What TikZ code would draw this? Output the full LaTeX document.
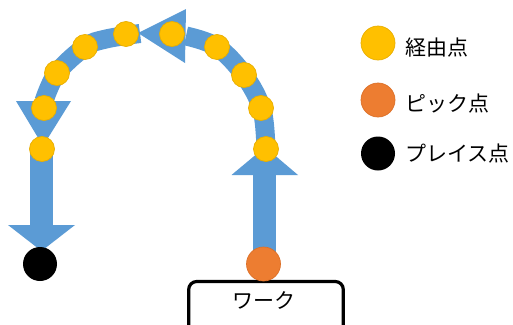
\documentclass[tikz,border=0pt]{standalone}
\usepackage{fontspec}
\newfontfamily\jp{Noto Sans CJK JP}
\definecolor{flowblue}{HTML}{5B9BD5}
\definecolor{viagold}{HTML}{FFC000}
\definecolor{viaedge}{HTML}{E8AE00}
\definecolor{pickorange}{HTML}{ED7D31}
\definecolor{pickedge}{HTML}{DC7028}
\tikzset{
  band/.style={draw=flowblue, line width=19pt},
  via/.style={circle, fill=viagold, draw=viaedge, line width=0.7pt, minimum size=25pt, inner sep=0pt},
  pick/.style={circle, fill=pickorange, draw=pickedge, line width=0.7pt, minimum size=34pt, inner sep=0pt},
  place/.style={circle, fill=black, minimum size=34pt, inner sep=0pt},
  jptext/.style={font=\jp\fontsize{21}{24}\selectfont, inner sep=0pt},
  legendtext/.style={jptext, anchor=west},
  workbox/.style={draw=black, line width=3.2pt, rounded corners=8pt}
}
\begin{document}
\begin{tikzpicture}[x=1pt, y=-1pt]
  \clip (0,0) rectangle (513,324);
  \fill[white] (0,0) rectangle (513,324);

  % path points of the two arcs
  \coordinate (ra0) at (266,152);
  \coordinate (ra1) at (262,110);
  \coordinate (ra2) at (244,75);
  \coordinate (ra3) at (217,47);
  \coordinate (ra4) at (186,36);
  \coordinate (la0) at (140,33.5);
  \coordinate (la1) at (106,39);
  \coordinate (la2) at (85,47);
  \coordinate (la3) at (57,73);
  \coordinate (la4) at (44,101);

  % right arc, rising from the pick side
  \draw[band] plot[smooth, tension=0.6] coordinates {(ra0) (ra1) (ra2) (ra3) (ra4)};
  \fill[flowblue] (186,9) -- (138,33) -- (185,63) -- cycle;
  % left arc, descending to the place side
  \draw[band] plot[smooth, tension=0.6] coordinates {(la0) (la1) (la2) (la3) (la4)};
  \fill[flowblue] (16,101) -- (43,146) -- (71,101) -- cycle;

  % vertical approach arrows
  \fill[flowblue] (30,148) rectangle (53,225.5);
  \fill[flowblue] (8,225) -- (75,225) -- (41.5,251) -- cycle;
  \fill[flowblue] (252.5,263) rectangle (275.5,174.5);
  \fill[flowblue] (231.5,175) -- (298,175) -- (265,147) -- cycle;

  % workpiece
  \draw[workbox] (188.7,281.5) rectangle (343.3,345);
  \node[jptext] (work) at (264,300) {ワーク};

  % via points on the arcs
  \node[via] (v1) at (126,34) {};
  \node[via] (v2) at (85,47) {};
  \node[via] (v3) at (57,73) {};
  \node[via] (v4) at (44,108) {};
  \node[via] (v5) at (42,149) {};
  \node[via] (v6) at (172,34) {};
  \node[via] (v7) at (217,47) {};
  \node[via] (v8) at (244,75) {};
  \node[via] (v9) at (261,108) {};
  \node[via] (v10) at (266,149) {};

  % pick and place points
  \node[place] (pl) at (40,264) {};
  \node[pick] (pk) at (263.5,264) {};

  % legend
  \node[via, minimum size=34pt] (lg1) at (378,43) {};
  \node[pick] (lg2) at (378,100) {};
  \node[place] (lg3) at (378,153.5) {};
  \node[legendtext] (t1) at (405,48) {経由点};
  \node[legendtext] (t2) at (405,104) {ピック点};
  \node[legendtext] (t3) at (405,154) {プレイス点};
\end{tikzpicture}
\end{document}
